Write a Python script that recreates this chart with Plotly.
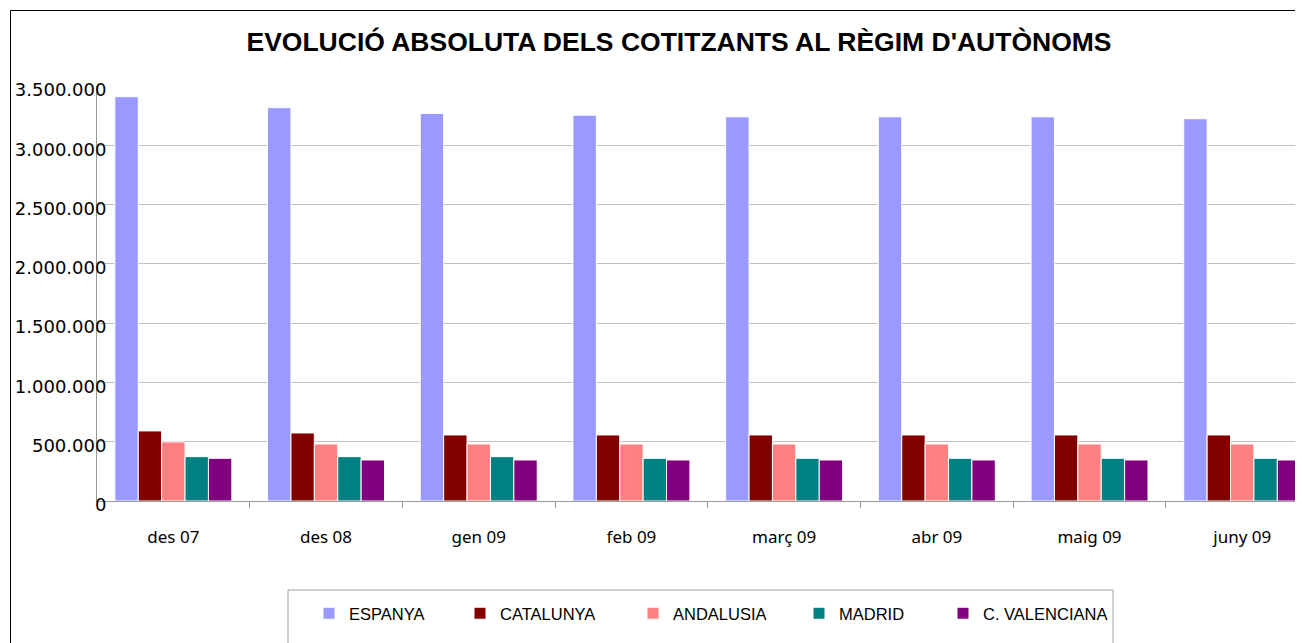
import plotly.graph_objects as go

categories = ["des 07", "des 08", "gen 09", "feb 09", "març 09", "abr 09", "maig 09", "juny 09"]
espanya = [3410000, 3317000, 3268000, 3254000, 3240000, 3240000, 3240000, 3224000]
catalunya = [591000, 574000, 557000, 557000, 557000, 557000, 557000, 557000]
andalusia = [498000, 481000, 481000, 481000, 481000, 481000, 481000, 481000]
madrid = [374000, 374000, 374000, 360000, 360000, 360000, 360000, 360000]
valenciana = [360000, 346000, 346000, 346000, 346000, 346000, 346000, 346000]
series_names = ["ESPANYA", "CATALUNYA", "ANDALUSIA", "MADRID", "C. VALENCIANA"]
series_values = [espanya, catalunya, andalusia, madrid, valenciana]
colors = ["#9999FF", "#800000", "#FF8080", "#008080", "#800080"]
y_ticks = [0, 500000, 1000000, 1500000, 2000000, 2500000, 3000000, 3500000]

# page offset of the figure (default body margin)
OFF = 8
W, H = 1303 - OFF, 643 - OFF
ML, MR, MT = 97 - OFF, 0, 86 - OFF
MB = H - (501 - OFF)
PW = W - ML - MR
PH = H - MT - MB

def px_x(x):
    return (x - OFF - ML) / PW

def px_y(y):
    return (H - MB - (y - OFF)) / PH

# legend entry anchor positions (page px), one legend per series
legend_left_px = [309, 460, 633, 799, 943]
legend_ids = ["legend", "legend2", "legend3", "legend4", "legend5"]

fig = go.Figure()
for name, vals, col, lid in zip(series_names, series_values, colors, legend_ids):
    fig.add_trace(go.Bar(
        x=categories, y=vals, name=name, legend=lid,
        marker=dict(color=col, line=dict(color="white", width=1)),
    ))

legend_font = dict(family="Liberation Sans Narrow, Liberation Sans, Arial, sans-serif", size=16.5, color="black")
legend_layouts = {}
for lid, lx in zip(legend_ids, legend_left_px):
    legend_layouts[lid] = dict(
        orientation="h",
        x=px_x(lx), xanchor="left",
        y=px_y(596), yanchor="top",
        font=legend_font,
        itemwidth=30,
        bgcolor="rgba(0,0,0,0)", borderwidth=0,
    )

fig.update_layout(
    width=W, height=H,
    margin=dict(l=ML, r=MR, t=MT, b=MB),
    paper_bgcolor="white", plot_bgcolor="white",
    barmode="group", bargap=0.234, bargroupgap=0.0,
    separators=",.",
    title=dict(
        text="EVOLUCIÓ ABSOLUTA DELS COTITZANTS AL RÈGIM D'AUTÒNOMS",
        font=dict(family="Liberation Sans, Arial, sans-serif", size=26.5, color="black", weight="bold"),
        x=(679 - OFF) / W, xanchor="center", xref="container",
        y=1 - (42 - OFF) / H, yanchor="middle", yref="container",
    ),
    xaxis=dict(
        range=[-0.5, 7.398],
        showgrid=False,
        showline=True, linecolor="#9a9a9a", linewidth=1,
        ticks="outside", tickson="boundaries", ticklen=6, tickcolor="#9a9a9a",
        tickfont=dict(family="Noto Sans, DejaVu Sans, sans-serif", size=17, color="black"),
        ticklabelstandoff=21,
    ),
    yaxis=dict(
        range=[0, 3500000],
        tickvals=y_ticks, tickformat=",d",
        showgrid=True, gridcolor="#c0c0c0", gridwidth=1,
        showline=True, linecolor="#9a9a9a", linewidth=1,
        zeroline=False,
        ticks="",
        tickfont=dict(family="DejaVu Sans, sans-serif", size=18, color="black"),
        ticklabelshift=4,
        ticklabelstandoff=-14,
    ),
    showlegend=True,
    shapes=[
        dict(type="rect", xref="paper", yref="paper",
             x0=px_x(10.5), x1=px_x(1320), y0=px_y(660), y1=px_y(10.5),
             line=dict(color="black", width=1), fillcolor="rgba(0,0,0,0)", layer="below"),
        dict(type="rect", xref="paper", yref="paper",
             x0=px_x(288), x1=px_x(1113), y0=px_y(660), y1=px_y(590),
             line=dict(color="#a0a0a0", width=1), fillcolor="rgba(0,0,0,0)", layer="below"),
    ],
    **legend_layouts,
)

fig.write_html("out.html")
